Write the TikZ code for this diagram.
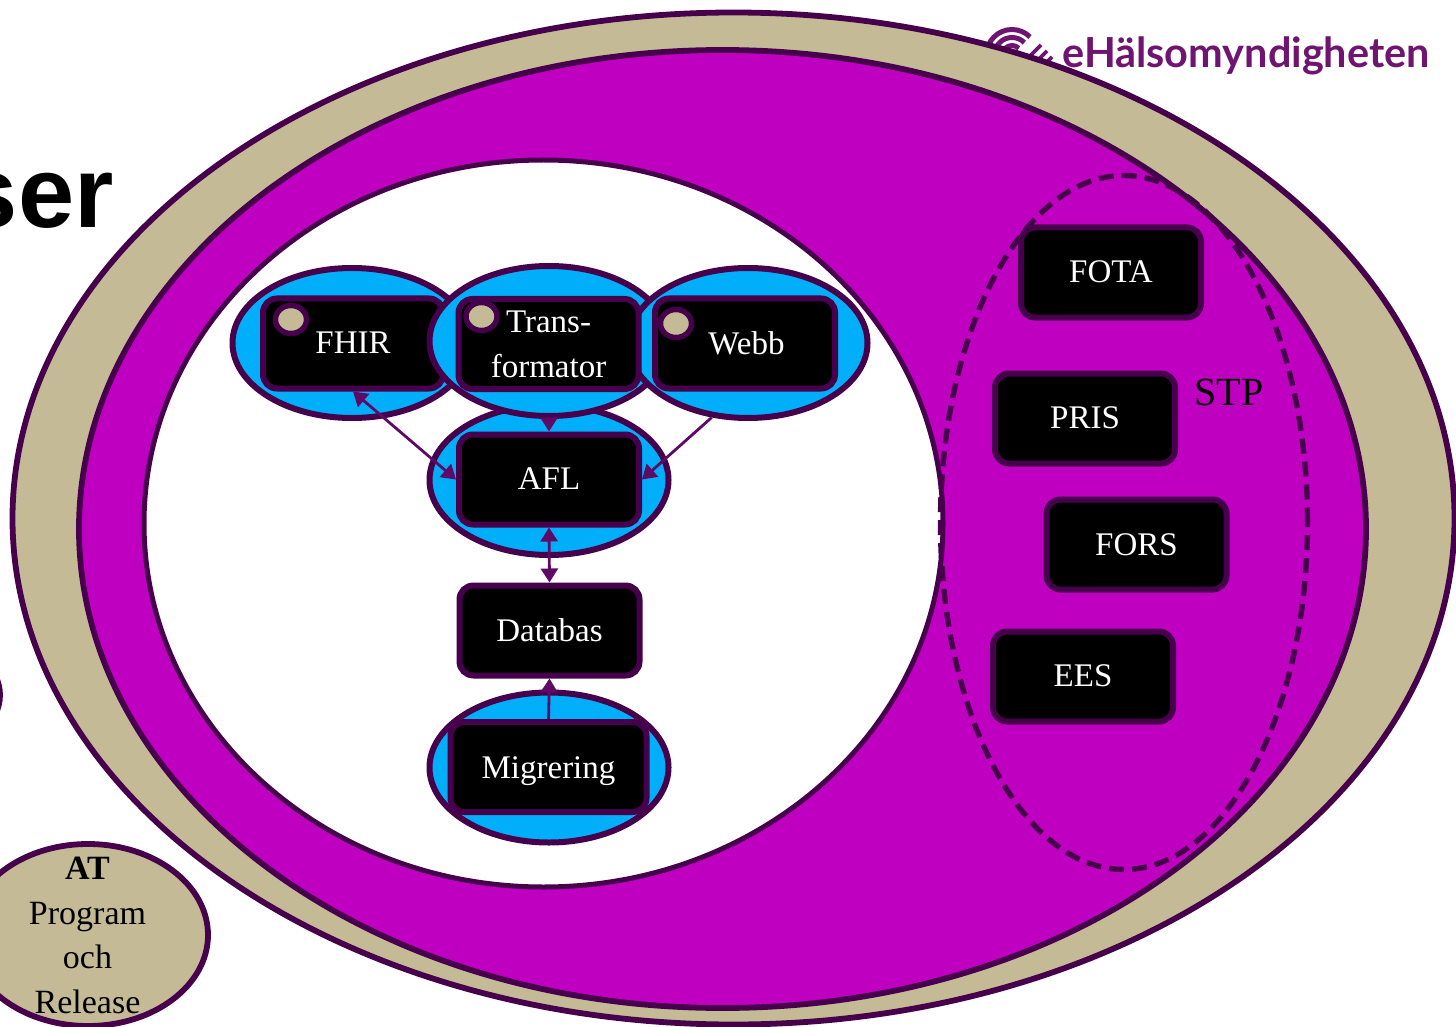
\documentclass[tikz,border=0pt]{standalone}
\usepackage{fontspec}
\setmainfont{Liberation Serif}
\newfontfamily\headfont{Liberation Sans}
\newfontfamily\logofont{Lato}
\usetikzlibrary{shapes.geometric,arrows.meta}
\definecolor{edge}{HTML}{46004C}
\definecolor{beige}{HTML}{C4BB96}
\definecolor{magen}{HTML}{C000C0}
\definecolor{skyb}{HTML}{00AEFA}
\definecolor{arrowc}{HTML}{5E0A66}
\definecolor{logoc}{HTML}{6F1470}
\newcommand{\lift}[1]{\raisebox{0.5pt}{#1}}
\tikzset{
  x=0.5pt,y=-0.5pt,
  oval/.style={ellipse,draw=edge,line width=2.9pt,inner sep=0pt,minimum width=#1},
  ringdisc/.style={ellipse,draw=edge,fill=beige,line width=2.7pt,inner sep=0pt,minimum width=15.5pt,minimum height=14pt},
  blueoval/.style={oval=119.5pt,fill=skyb,minimum height=75pt,line width=3pt},
  darkbox/.style={rectangle,rounded corners=7pt,draw=edge,fill=black,line width=3pt,inner sep=0pt,
    minimum width=90pt,minimum height=45pt,text=white,font=\fontsize{16.5}{22.5}\selectfont,align=center},
  link/.style={draw=arrowc,line width=1.4pt},
  tipend/.style={-{Triangle[length=7pt,width=8.5pt]}},
  tipboth/.style={{Triangle[length=7pt,width=8.5pt]}-{Triangle[length=7pt,width=8.5pt]}},
  logobar/.style={logoc,line width=1.8pt},
  logoarc/.style={logoc,line width=2.5pt},
}
\begin{document}
\begin{tikzpicture}
\useasboundingbox (0,0) rectangle (1456,1027);
\clip (0,0) rectangle (1456,1027);
\fill[white] (0,0) rectangle (1456,1027);
% heading fragment and the arc at the left margin
\node[anchor=base east,inner sep=0pt,font=\headfont\bfseries\fontsize{50.5}{56}\selectfont] (head) at (114,228) {ser};
\coordinate (arcc) at (-60,695);
\draw[edge,line width=2.9pt] (arcc) ellipse [x radius=60,y radius=50];
% logo
\coordinate (logoc0) at (1012,55);
\draw[logoarc] (logoc0) ++(180:25.5) arc[start angle=180,end angle=315,radius=25.5];
\draw[logoarc] (logoc0) ++(180:17.5) arc[start angle=180,end angle=315,radius=17.5];
\draw[logoarc] (logoc0) ++(180:9.5) arc[start angle=180,end angle=315,radius=9.5];
\draw[logobar] (1041,45) -- (1028,58);
\draw[logobar] (1047,51) -- (1034,64);
\draw[logobar] (1052,57) -- (1040,69);
\node[anchor=base west,inner sep=0pt,text=logoc,font=\logofont\bfseries\fontsize{20.7}{22}\selectfont] (logo) at (1062,68) {eHälsomyndigheten};
% big ovals
\node[oval=1442*0.5pt,minimum height=1012*0.5pt,fill=beige] (outer) at (733.5,518.5) {};
\node[oval=1287*0.5pt,minimum height=958*0.5pt,fill=magen] (middle) at (722.5,529) {};
\node[oval=799*0.5pt,minimum height=727*0.5pt,fill=white,line width=2.5pt] (inner) at (543.5,523.5) {};
\node[oval=367*0.5pt,minimum height=694*0.5pt,dash pattern=on 7.5pt off 4pt,line width=2.7pt] (stp) at (1124,522.5) {};
\node[font=\fontsize{20}{22}\selectfont] (stplabel) at (1229,392) {STP};
% right boxes
\node[darkbox] (fota) at (1111,272.5) {\lift{FOTA}};
\node[darkbox] (pris) at (1085,418.5) {\lift{PRIS}};
\node[darkbox] (fors) at (1136.5,544.5) {FORS};
\node[darkbox] (ees) at (1083,676.5) {\lift{EES}};
% service ovals
\node[blueoval] (fhiroval) at (352,343) {};
\node[darkbox] (fhir) at (353,343.5) {\lift{FHIR}};
\node[blueoval] (afloval) at (549,480) {};
\node[blueoval] (transoval) at (549,341) {};
\node[blueoval] (webboval) at (748,343) {};
\node[darkbox] (trans) at (548.5,344) {Trans-\\formator};
\node[darkbox] (webb) at (745,343.5) {\hspace{1.5pt}\lift{Webb}};
\node[darkbox] (afl) at (549,479.5) {\lift{AFL}};
\node[darkbox] (db) at (549.5,630.5) {Databas};
\node[blueoval] (migoval) at (549,767.5) {};
\node[darkbox,minimum width=98pt] (mig) at (548.5,767) {\raisebox{0pt}[14.3pt][2.9pt]{Migrering}};
\node[ringdisc] (d1) at (291,319.5) {};
\node[ringdisc] (d2) at (481.5,316.5) {};
\node[ringdisc] (d3) at (676,323.5) {};
% connectors
\draw[link,tipboth] (fhir.south) -- (afl.west);
\draw[link,tipend] (transoval.south) -- (afl.north);
\draw[link,tipend] (webboval.244) -- (afl.east);
\draw[link,tipboth] (afl.south) -- (db.north);
\draw[link,tipend] (mig.north) -- (db.south);
% AT oval
\node[oval=240*0.5pt,minimum height=182*0.5pt,fill=beige] (at) at (88,935) {};
\node[font=\fontsize{17}{22.4}\selectfont,align=center,anchor=north,inner sep=0pt] (attext) at (87.5,856.5) {\textbf{AT}\\Program\\och\\Release};
\end{tikzpicture}
\end{document}
